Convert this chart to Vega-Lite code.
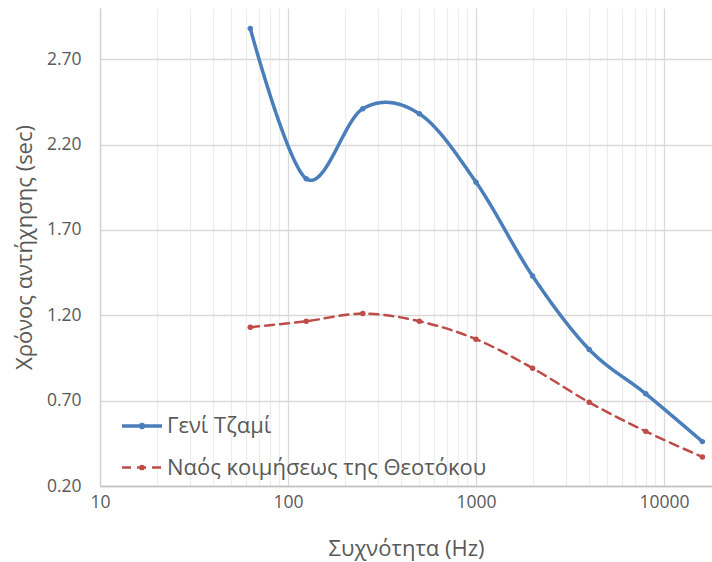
{
  "$schema": "https://vega.github.io/schema/vega-lite/v6.json",
  "width": 612,
  "height": 478,
  "autosize": {"type": "none"},
  "padding": {"left": 100, "top": 8, "right": 0, "bottom": 76},
  "background": "white",
  "config": {
    "view": {"stroke": null},
    "font": "Open Sans"
  },
  "data": {
    "values": [
      {"f": 63, "t": 2.88, "s": "Γενί Τζαμί"},
      {"f": 125, "t": 2.0, "s": "Γενί Τζαμί"},
      {"f": 250, "t": 2.41, "s": "Γενί Τζαμί"},
      {"f": 500, "t": 2.38, "s": "Γενί Τζαμί"},
      {"f": 1000, "t": 1.98, "s": "Γενί Τζαμί"},
      {"f": 2000, "t": 1.43, "s": "Γενί Τζαμί"},
      {"f": 4000, "t": 1.0, "s": "Γενί Τζαμί"},
      {"f": 8000, "t": 0.74, "s": "Γενί Τζαμί"},
      {"f": 16000, "t": 0.46, "s": "Γενί Τζαμί"},
      {"f": 63, "t": 1.13, "s": "Ναός κοιμήσεως της Θεοτόκου"},
      {"f": 125, "t": 1.165, "s": "Ναός κοιμήσεως της Θεοτόκου"},
      {"f": 250, "t": 1.21, "s": "Ναός κοιμήσεως της Θεοτόκου"},
      {"f": 500, "t": 1.165, "s": "Ναός κοιμήσεως της Θεοτόκου"},
      {"f": 1000, "t": 1.06, "s": "Ναός κοιμήσεως της Θεοτόκου"},
      {"f": 2000, "t": 0.89, "s": "Ναός κοιμήσεως της Θεοτόκου"},
      {"f": 4000, "t": 0.69, "s": "Ναός κοιμήσεως της Θεοτόκου"},
      {"f": 8000, "t": 0.52, "s": "Ναός κοιμήσεως της Θεοτόκου"},
      {"f": 16000, "t": 0.37, "s": "Ναός κοιμήσεως της Θεοτόκου"}
    ]
  },
  "encoding": {
    "x": {
      "field": "f",
      "type": "quantitative",
      "scale": {"type": "log", "domain": [10, 18000], "nice": false},
      "axis": {
        "title": "Συχνότητα (Hz)",
        "values": [10, 20, 30, 40, 50, 60, 70, 80, 90, 100, 200, 300, 400, 500, 600, 700, 800, 900, 1000, 2000, 3000, 4000, 5000, 6000, 7000, 8000, 9000, 10000],
        "format": "d",
        "labelExpr": "indexof([10,100,1000,10000], datum.value) >= 0 ? datum.label : ''",
        "grid": true,
        "gridColor": {"condition": {"test": "indexof([10,100,1000,10000], datum.value) >= 0", "value": "#d9d9d9"}, "value": "#ededed"},
        "gridWidth": 1.3,
        "ticks": false,
        "domainColor": "#bfbfbf",
        "domainWidth": 1.3,
        "labelColor": "#595959",
        "labelFontSize": 17.5,
        "labelPadding": 7,
        "labelBaseline": "top",
        "labelFlush": false,
        "labelOverlap": false,
        "titleColor": "#595959",
        "titleFontSize": 22,
        "titleFontWeight": "normal",
        "titleBaseline": "middle",
        "titleY": 62
      }
    },
    "y": {
      "field": "t",
      "type": "quantitative",
      "scale": {"domain": [0.2, 3.0], "nice": false, "zero": false},
      "axis": {
        "title": "Χρόνος αντήχησης (sec)",
        "values": [0.2, 0.7, 1.2, 1.7, 2.2, 2.7],
        "format": ".2f",
        "grid": true,
        "gridColor": "#d9d9d9",
        "gridWidth": 1.3,
        "ticks": false,
        "domainColor": "#d0d0d0",
        "domainWidth": 1.3,
        "labelColor": "#595959",
        "labelFontSize": 17.5,
        "labelPadding": 19,
        "labelFlush": false,
        "titleColor": "#595959",
        "titleFontSize": 22,
        "titleFontWeight": "normal",
        "titleBaseline": "middle",
        "titleX": -76
      }
    },
    "color": {
      "field": "s",
      "type": "nominal",
      "scale": {"domain": ["Γενί Τζαμί", "Ναός κοιμήσεως της Θεοτόκου"], "range": ["#4A7EBB", "#BE4B48"]},
      "legend": {
        "title": null,
        "orient": "none",
        "legendX": 20,
        "legendY": 396,
        "labelFontSize": 22,
        "labelColor": "#595959",
        "labelLimit": 500,
        "rowPadding": 9,
        "symbolType": "M-1,0L1,0M0.08,0A0.08,0.08,0,1,1,-0.08,0A0.08,0.08,0,1,1,0.08,0",
        "symbolSize": 1600,
        "symbolStrokeWidth": 3,
        "labelOffset": 3
      }
    }
  },
  "layer": [
    {
      "mark": {"type": "line", "interpolate": "cardinal", "clip": true, "strokeCap": "round"},
      "encoding": {
        "strokeDash": {
          "field": "s",
          "type": "nominal",
          "scale": {"domain": ["Γενί Τζαμί", "Ναός κοιμήσεως της Θεοτόκου"], "range": [[1, 0], [9, 6]]},
          "legend": null
        },
        "strokeWidth": {
          "field": "s",
          "type": "nominal",
          "scale": {"domain": ["Γενί Τζαμί", "Ναός κοιμήσεως της Θεοτόκου"], "range": [3.5, 2.5]},
          "legend": null
        }
      }
    },
    {
      "mark": {"type": "point", "filled": true, "size": 30, "opacity": 1, "clip": true}
    }
  ]
}
